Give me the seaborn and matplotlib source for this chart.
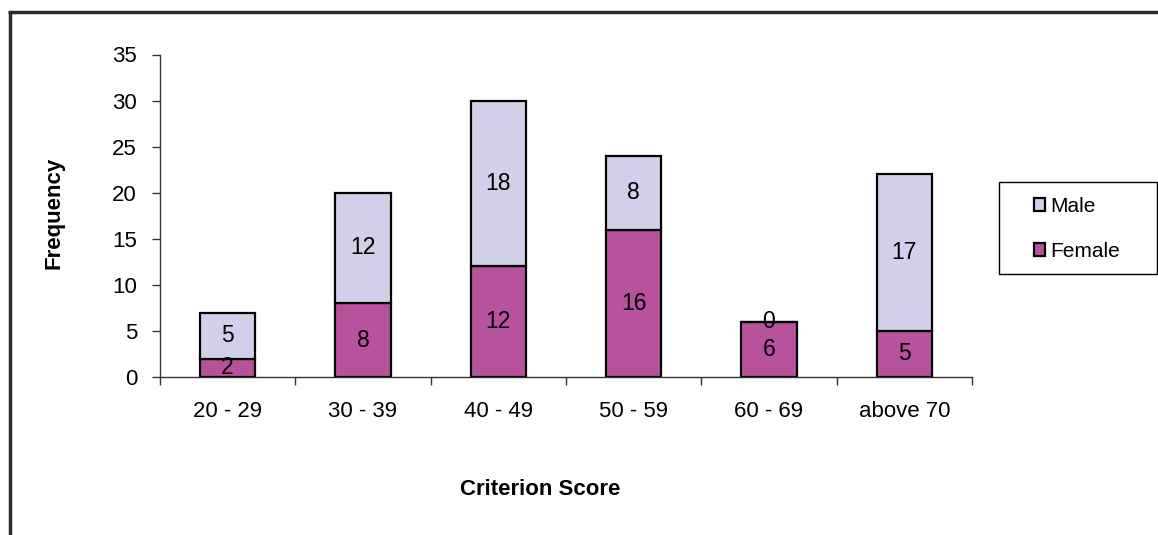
import matplotlib
matplotlib.use("Agg")
import matplotlib.pyplot as plt
from matplotlib.patches import Patch, Rectangle
from matplotlib.lines import Line2D
import seaborn as sns
import pandas as pd

# Frequency of criterion scores, split by gender
score_bands = ["20 - 29", "30 - 39", "40 - 49", "50 - 59", "60 - 69", "above 70"]
female = [2, 8, 12, 16, 6, 5]
male = [5, 12, 18, 8, 0, 17]

female_color = "#B9529D"
male_color = "#D2D0E8"

sns.set_theme(style="white")
plt.rcParams["font.family"] = ["Liberation Sans", "DejaVu Sans"]
plt.rcParams["text.color"] = "black"
plt.rcParams["axes.labelcolor"] = "black"
plt.rcParams["xtick.color"] = "black"
plt.rcParams["ytick.color"] = "black"

df = pd.DataFrame({"band": score_bands, "Female": female, "Male": male})

W, H = 1158, 535
fig = plt.figure(figsize=(W / 100, H / 100), dpi=100)
ax = fig.add_axes([160 / W, 1 - 377 / H, (972 - 160) / W, (377 - 54.5) / H])

# stacked bars: female at the base, male on top
sns.barplot(data=df, x="band", y="Female", color=female_color, width=0.41,
            edgecolor="black", linewidth=1.6, saturation=1, ax=ax)
sns.barplot(data=df, x="band", y="Male", color=male_color, width=0.41,
            edgecolor="black", linewidth=1.6, saturation=1, ax=ax,
            bottom=df["Female"].to_numpy())

fem_bars, male_bars = ax.containers[0], ax.containers[1]
ax.bar_label(fem_bars, labels=[str(v) for v in female], label_type="center",
             fontsize=16.5, color="black")
ax.bar_label(male_bars, labels=[str(v) for v in male], label_type="center",
             fontsize=16.5, color="black")

ax.set_ylim(0, 35)
ax.set_xlim(-0.5, len(score_bands) - 0.5)
ax.set_yticks(range(0, 36, 5))
ax.tick_params(axis="y", which="major", left=True, length=5.5, width=1,
               color="#333333", labelsize=16, pad=11)

# ticks at the band boundaries, labels at the band centres
ax.set_xticks([i - 0.5 for i in range(len(score_bands) + 1)])
ax.set_xticklabels([""] * (len(score_bands) + 1))
ax.set_xticks(range(len(score_bands)), minor=True)
ax.set_xticklabels(score_bands, minor=True)
ax.tick_params(axis="x", which="major", bottom=True, length=5.5, width=1,
               color="#333333")
ax.tick_params(axis="x", which="minor", bottom=True, length=0, labelsize=16,
               pad=17)

for side in ["top", "right"]:
    ax.spines[side].set_visible(False)
for side in ["left", "bottom"]:
    ax.spines[side].set_color("#333333")
    ax.spines[side].set_linewidth(1)

ax.set_xlabel("Criterion Score", fontsize=16, fontweight="bold")
ax.set_ylabel("Frequency", fontsize=16, fontweight="bold")
ax.xaxis.set_label_coords((540.5 - 160) / 812, (377 - 479) / 322.5)
ax.yaxis.set_label_coords((65 - 160) / 812, (377 - 212.5) / 322.5)

# legend box
fig.patches.append(Rectangle((999 / W, 1 - 274 / H), (1157 - 999) / W, 92 / H,
                             transform=fig.transFigure, fill=False,
                             edgecolor="black", linewidth=1))
handles = [Patch(facecolor=male_color, edgecolor="black", linewidth=1.6, label="Male"),
           Patch(facecolor=female_color, edgecolor="black", linewidth=1.6, label="Female")]
fig.legend(handles=handles, loc="upper left",
           bbox_to_anchor=(1034 / W, 1 - 197 / H), frameon=False, fontsize=15,
           handlelength=0.55, handleheight=0.55, handletextpad=0.25,
           labelspacing=1.25, borderpad=0, borderaxespad=0)

# outer frame lines along the left and top
fig.add_artist(Line2D([9.5 / W, 9.5 / W], [0, 1 - 12 / H], transform=fig.transFigure,
                      color="#2b2b2b", linewidth=2.5, solid_capstyle="butt"))
fig.add_artist(Line2D([8 / W, 1], [1 - 12 / H, 1 - 12 / H], transform=fig.transFigure,
                      color="#2b2b2b", linewidth=2.5, solid_capstyle="butt"))

fig.savefig("out.png", dpi=100, facecolor="white")
